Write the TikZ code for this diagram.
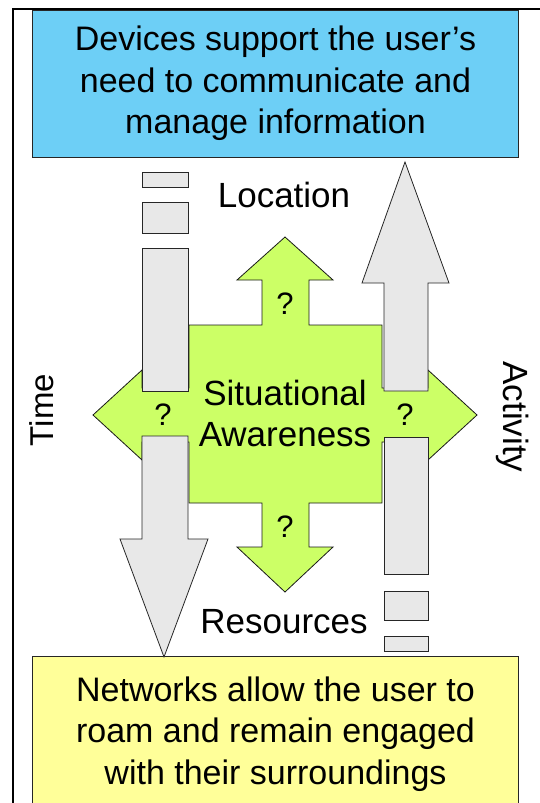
\documentclass[tikz,border=0pt]{standalone}
\usepackage{fontspec}
\setmainfont{Liberation Sans}
\definecolor{skyfill}{HTML}{6DCFF6}
\definecolor{limefill}{HTML}{CCFF66}
\definecolor{paleyellow}{HTML}{FFFF99}
\definecolor{bargrey}{HTML}{E8E8E8}
\begin{document}
\begin{tikzpicture}[x=1pt,y=-1pt,
  panel/.style={draw=black!85, line width=0.9pt, inner sep=0pt, align=center,
    minimum width=486pt, font=\fontsize{34}{41.5}\selectfont},
  lbl/.style={inner sep=0pt, font=\fontsize{35}{41}\selectfont},
  qmark/.style={inner sep=0pt, font=\fontsize{31}{36}\selectfont},
  greybar/.style={draw=black!85, fill=bargrey, line width=0.8pt},
  crossfill/.style={draw=black!90, fill=limefill, line width=0.8pt, line join=miter}]
\useasboundingbox (0,0) rectangle (540,803);

% outer frame, open to the right and bottom
\draw[line width=1.6pt] (13,820) -- (13,9) -- (560,9);

% top and bottom panels
\node[panel, fill=skyfill, minimum height=147pt] (devices) at (275.5,83.5)
  {Devices support the user’s\\need to communicate and\\manage information};
\node[panel, fill=paleyellow, minimum height=156pt] (networks) at (275.5,734)
  {Networks allow the user to\\roam and remain engaged\\with their surroundings};

% four-way green arrow
\draw[crossfill] (285,237) -- (333,280) -- (309,280) -- (309,325) -- (382,325)
  -- (382,388) -- (428,388) -- (428,370) -- (477,415) -- (428,460) -- (428,442)
  -- (382,442) -- (382,503) -- (309,503) -- (309,547) -- (333,547) -- (285,592)
  -- (237,547) -- (262,547) -- (262,503) -- (189,503) -- (189,442) -- (142,442)
  -- (142,460) -- (93,415) -- (142,370) -- (142,388) -- (189,388) -- (189,325)
  -- (262,325) -- (262,280) -- (237,280) -- cycle;

% left column: dashed bars ending in a downward arrow
\draw[greybar] (142,172) rectangle (188,187);
\draw[greybar] (142,202) rectangle (188,233);
\draw[greybar] (142,248) rectangle (188,391);
\draw[greybar] (142,436) -- (188,436) -- (188,539) -- (208,539) -- (164,657)
  -- (120,539) -- (142,539) -- cycle;

% right column: upward arrow followed by dashed bars
\draw[greybar] (384,391) -- (384,283) -- (362,283) -- (405,162) -- (449,283)
  -- (428,283) -- (428,391) -- cycle;
\draw[greybar] (384,437) rectangle (428,574);
\draw[greybar] (384,591) rectangle (428,620);
\draw[greybar] (384,636) rectangle (428,651);

% labels
\node[lbl, anchor=base] (location) at (284,207) {Location};
\node[lbl, anchor=base] (resources) at (284,633) {Resources};
\node[lbl, align=center] (sa) at (285,413) {Situational\\Awareness};
\node[lbl, anchor=base, rotate=90, font=\fontsize{33}{40}\selectfont] (time) at (53,410) {Time};
\node[lbl, anchor=base, rotate=-90] (activity) at (503,417) {Activity};

\node[qmark] (qtop) at (285,304) {?};
\node[qmark] (qleft) at (163,415) {?};
\node[qmark] (qright) at (405,415) {?};
\node[qmark] (qbottom) at (285,527) {?};
\end{tikzpicture}
\end{document}
